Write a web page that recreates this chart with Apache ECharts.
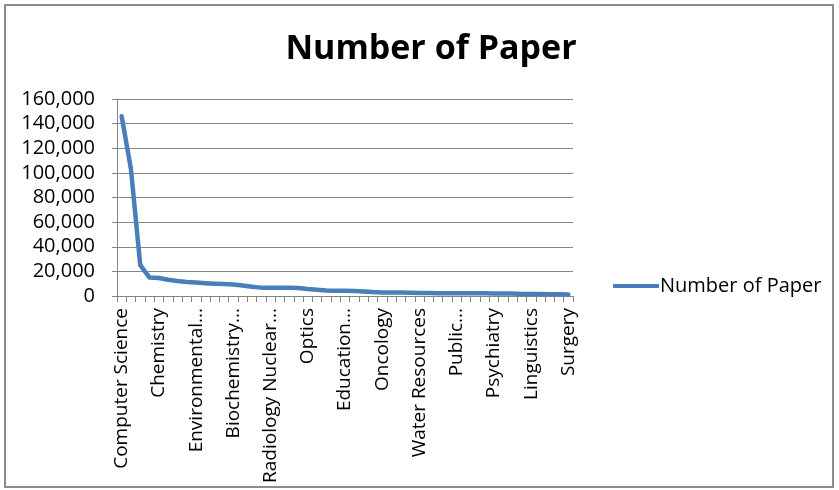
<!DOCTYPE html>
<html>
<head>
<meta charset="utf-8">
<script src="https://cdn.jsdelivr.net/npm/echarts@6/dist/echarts.min.js"></script>
<style>
  html, body { margin: 0; padding: 0; background: #ffffff; }
  #chart { width: 839px; height: 490px; }
</style>
</head>
<body>
<div id="chart"></div>
<script>
// Subject areas, one per tick; only every fourth one carries a visible label.
const categories = [
  'Computer Science', '', '', '',
  'Chemistry', '', '', '',
  'Environmental...', '', '', '',
  'Biochemistry...', '', '', '',
  'Radiology Nuclear...', '', '', '',
  'Optics', '', '', '',
  'Education...', '', '', '',
  'Oncology', '', '', '',
  'Water Resources', '', '', '',
  'Public...', '', '', '',
  'Psychiatry', '', '', '',
  'Linguistics', '', '', '',
  'Surgery'
];

// Paper counts per subject area
const paperCounts = [
  146000, 103000, 25000, 15000,
  14600, 13200, 12200, 11400,
  10900, 10400, 10000, 9700,
  9300, 8500, 7600, 6800,
  6600, 6700, 6700, 6500,
  5600, 5100, 4500, 4200,
  4200, 4100, 3700, 3200,
  2900, 2900, 2800, 2600,
  2400, 2400, 2300, 2300,
  2300, 2200, 2200, 2200,
  2100, 2100, 2000, 1700,
  1600, 1600, 1500, 1500,
  1200
];

const yTicks = { min: 0, max: 160000, interval: 20000 };
const seriesName = 'Number of Paper';

const FONT = '"Open Sans", "Noto Sans", sans-serif';
const chart = echarts.init(document.getElementById('chart'), null, { renderer: 'canvas' });

chart.setOption({
  animation: false,
  backgroundColor: '#ffffff',
  title: {
    text: 'Number of Paper',
    left: 426,
    top: 27,
    textAlign: 'center',
    textStyle: { fontFamily: FONT, fontWeight: 'bold', fontSize: 34, color: '#000000' }
  },
  legend: {
    data: [seriesName],
    left: 608,
    top: 271,
    itemWidth: 46,
    itemHeight: 10,
    itemGap: 2,
    textStyle: { fontFamily: FONT, fontSize: 20, color: '#000000', padding: [0, 0, 0, -4] },
    icon: 'path://M0,3 L46,3 L46,7 L0,7 Z'
  },
  graphic: [{
    type: 'rect',
    shape: { x: 5, y: 5, width: 828, height: 482 },
    style: { fill: 'none', stroke: '#8c8c8c', lineWidth: 2 },
    silent: true
  }],
  grid: { left: 117, top: 99, width: 456, height: 197, containLabel: false },
  xAxis: {
    type: 'category',
    data: categories,
    boundaryGap: true,
    axisLine: { lineStyle: { color: '#868686', width: 1 } },
    axisTick: { show: true, interval: 0, length: 6, lineStyle: { color: '#868686' } },
    axisLabel: {
      interval: 3,
      rotate: 90,
      margin: 12,
      fontFamily: FONT,
      fontSize: 19,
      color: '#000000'
    },
    splitLine: { show: false }
  },
  yAxis: {
    type: 'value',
    min: yTicks.min,
    max: yTicks.max,
    interval: yTicks.interval,
    axisLine: { show: true, lineStyle: { color: '#868686' } },
    axisTick: { show: true, length: 5, lineStyle: { color: '#868686' } },
    axisLabel: {
      fontFamily: FONT,
      fontSize: 20,
      color: '#000000',
      margin: 22,
      formatter: v => v.toLocaleString('en-US')
    },
    splitLine: { lineStyle: { color: '#868686', width: 1 } }
  },
  series: [{
    name: seriesName,
    type: 'line',
    data: paperCounts,
    symbol: 'none',
    lineStyle: { color: '#4a7ebb', width: 4.5, join: 'round', cap: 'round' },
    itemStyle: { color: '#4a7ebb' }
  }]
});
</script>
</body>
</html>
